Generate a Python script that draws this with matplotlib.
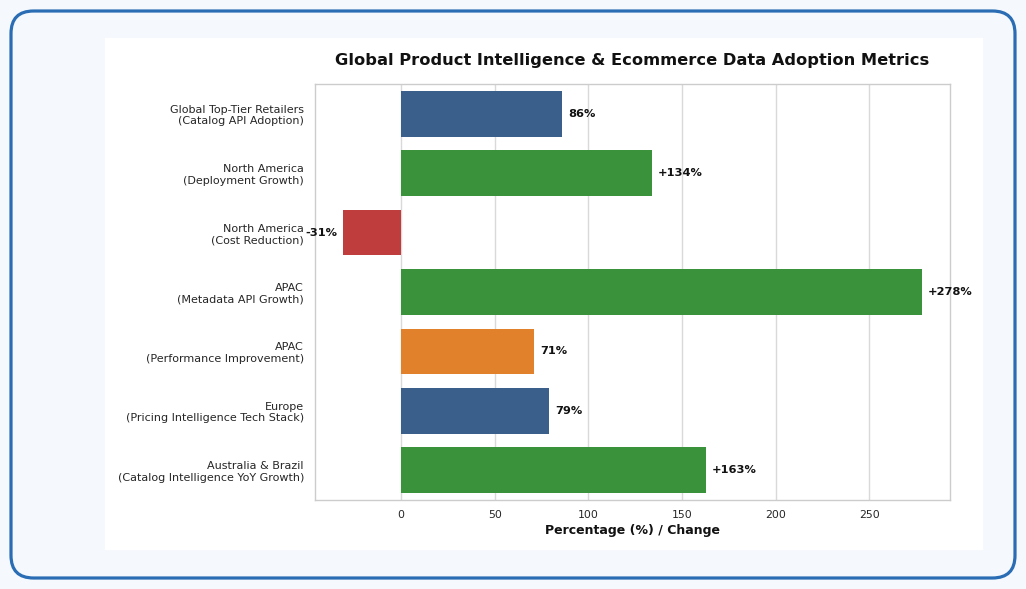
import matplotlib
matplotlib.use("Agg")
import matplotlib.pyplot as plt
from matplotlib.patches import FancyBboxPatch, Rectangle

# donnees
categories = [
    "Global Top-Tier Retailers\n(Catalog API Adoption)",
    "North America\n(Deployment Growth)",
    "North America\n(Cost Reduction)",
    "APAC\n(Metadata API Growth)",
    "APAC\n(Performance Improvement)",
    "Europe\n(Pricing Intelligence Tech Stack)",
    "Australia & Brazil\n(Catalog Intelligence YoY Growth)",
]
values = [86, 134, -31, 278, 71, 79, 163]
labels = ["86%", "+134%", "-31%", "+278%", "71%", "79%", "+163%"]
couleurs = ["#3a5f8b", "#3a923a", "#c03d3e", "#3a923a", "#e1812c", "#3a5f8b", "#3a923a"]

W, H = 1026, 589
fig = plt.figure(figsize=(W / 100, H / 100), dpi=100)
fig.patch.set_facecolor("#f5f8fc")

# cadre bleu arrondi + fond blanc
cadre = FancyBboxPatch((11 / W, 11 / H), 1004 / W, 567 / H,
                       boxstyle="round,pad=0,rounding_size=0.022",
                       transform=fig.transFigure, facecolor="#f5f8fc",
                       edgecolor="#2a6db4", linewidth=2.3, mutation_aspect=W / H,
                       zorder=-3)
fig.patches.append(cadre)
fond = Rectangle((105 / W, 1 - 550 / H), 878 / W, 512 / H,
                 transform=fig.transFigure, facecolor="white", edgecolor="none",
                 zorder=-2)
fig.patches.append(fond)

ax = fig.add_axes([315 / W, 1 - 500 / H, 635 / W, 416 / H])
ax.set_facecolor("white")
pos = list(range(len(values)))
ax.barh(pos, values, height=0.77, color=couleurs, zorder=2)
ax.set_ylim(len(values) - 0.5, -0.5)
ax.set_xlim(min(values) - 15, max(values) + 15)
ax.set_yticks(pos)
ax.set_yticklabels(categories, fontsize=8, color="#262626")
ax.set_xticks([0, 50, 100, 150, 200, 250])
ax.tick_params(axis="x", labelsize=7.8, colors="#262626", length=0, pad=7)
ax.tick_params(axis="y", length=0, pad=8)
ax.grid(axis="x", color="#d9d9d9", linewidth=1, zorder=0)
ax.set_axisbelow(True)
for s in ax.spines.values():
    s.set_color("#cccccc")
    s.set_linewidth(1)

for i, v in enumerate(values):
    if v >= 0:
        ax.text(v + 3, i, labels[i], ha="left", va="center", fontsize=8.2,
                fontweight="bold", color="#111111")
    else:
        ax.text(v - 3, i, labels[i], ha="right", va="center", fontsize=8.2,
                fontweight="bold", color="#111111")

ax.set_xlabel("Percentage (%) / Change", fontsize=9, fontweight="bold",
              color="#111111", labelpad=3)
ax.set_title("Global Product Intelligence & Ecommerce Data Adoption Metrics",
             fontsize=11.7, fontweight="bold", color="#111111", pad=14)

fig.savefig("out.png", dpi=100, facecolor=fig.get_facecolor())
